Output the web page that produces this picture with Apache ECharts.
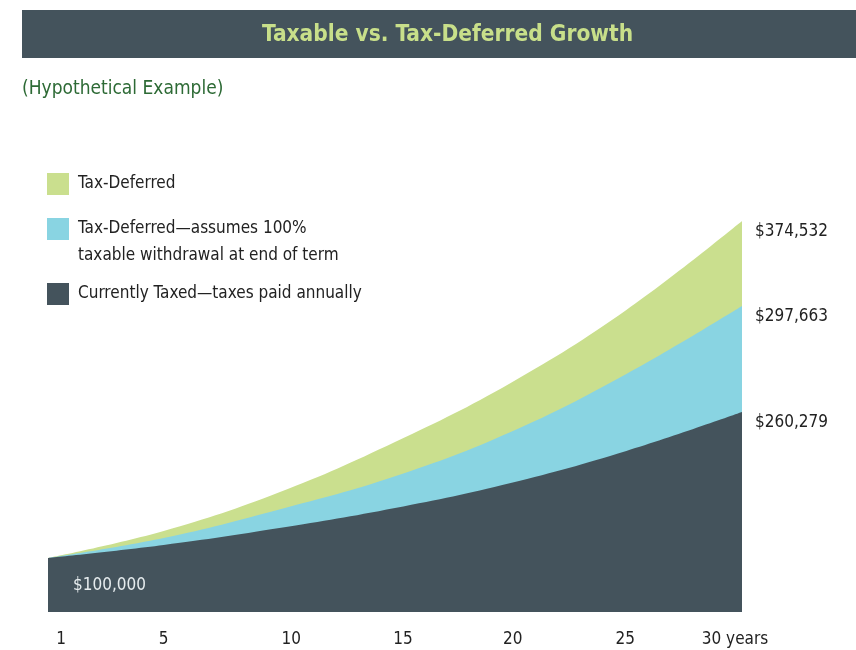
<!DOCTYPE html>
<html>
<head>
<meta charset="utf-8">
<script src="https://cdn.jsdelivr.net/npm/echarts@6/dist/echarts.min.js"></script>
<style>
html,body{margin:0;padding:0;background:#fff;}
#chart{width:856px;height:650px;}
</style>
</head>
<body>
<div id="chart"></div>
<script>
const years = [0, 5, 10, 15, 20, 25, 30];
const taxDeferred = [100000, 122000, 153500, 194500, 242600, 302000, 374532];
const taxDeferredWithdrawal = [100000, 116300, 139500, 166500, 202600, 249900, 305300];
const currentlyTaxed = [100000, 110600, 124400, 140700, 161100, 187200, 218900];
const endLabels = ['$374,532', '$297,663', '$260,279'];
const startLabel = '$100,000';
const xTickValues = [1, 5, 10, 15, 20, 25, 30];
const xTickText = ['1', '5', '10', '15', '20', '25', '30 years'];
const seriesNames = ['Tax-Deferred', 'Tax-Deferred—assumes 100%\ntaxable withdrawal at end of term', 'Currently Taxed—taxes paid annually'];
const colors = ['#cadf8e', '#89d4e2', '#44535c'];

const FONT = "'Liberation Sans Narrow', 'DejaVu Sans Condensed', Roboto, sans-serif";
// small horizontal nudges of the tick labels (px), as hand-placed in the original
const tickNudge = [-10, 0, 12, 8, 2, -1, -7];

function pairs(vals) { return years.map((y, i) => [y, vals[i]]); }

const chart = echarts.init(document.getElementById('chart'));

function mkSeries(idx, vals) {
  return {
    name: seriesNames[idx],
    type: 'line',
    data: pairs(vals),
    smooth: 0.4,
    symbol: 'none',
    color: colors[idx],
    lineStyle: { width: 0 },
    areaStyle: { color: colors[idx], opacity: 1, origin: 'start' },
    z: 2 + idx,
    silent: true,
    endLabel: {
      show: true,
      formatter: () => endLabels[idx],
      color: '#222',
      fontSize: 17,
      fontFamily: FONT,
      offset: [5, 11]
    }
  };
}

const legendBase = {
  orient: 'vertical',
  left: 47,
  padding: 0,
  itemWidth: 22,
  itemHeight: 22,
  icon: 'rect',
  selectedMode: false,
  textStyle: { color: '#222', fontSize: 17, fontFamily: FONT, lineHeight: 27, padding: [3, 0, 0, 4] }
};

const rich = {};
xTickValues.forEach((v, i) => {
  const d = tickNudge[i];
  rich['t' + i] = {
    color: '#222', fontSize: 17, fontFamily: FONT,
    padding: d >= 0 ? [0, 0, 0, 2 * d] : [0, -2 * d, 0, 0]
  };
});

chart.setOption({
  animation: false,
  title: [
    {
      text: 'Taxable vs. Tax-Deferred Growth',
      left: 262, top: 24, padding: 0,
      textStyle: { color: '#c8df8a', fontSize: 22.5, fontWeight: 'bold', fontFamily: FONT }
    },
    {
      text: '(Hypothetical Example)',
      left: 22, top: 80, padding: 0,
      textStyle: { color: '#2d6a35', fontSize: 19, fontWeight: 'normal', fontFamily: FONT }
    }
  ],
  graphic: [
    { type: 'rect', left: 22, top: 10, shape: { width: 834, height: 48 }, style: { fill: '#44535c' }, z: -1 },
    { type: 'text', left: 73, top: 577, style: { text: startLabel, fill: '#e6ecee', fontSize: 17, fontFamily: FONT }, z: 100 }
  ],
  legend: [
    Object.assign({}, legendBase, { top: 169, data: [seriesNames[0]] }),
    Object.assign({}, legendBase, { top: 187, data: [seriesNames[1]],
      formatter: name => '\n' + name }),
    Object.assign({}, legendBase, { top: 279, data: [seriesNames[2]] })
  ],
  grid: { left: 48, right: 114, top: 221, bottom: 38, containLabel: false },
  xAxis: {
    type: 'value', min: 0, max: 30,
    axisLine: { show: false }, axisTick: { show: false }, splitLine: { show: false },
    axisLabel: {
      customValues: xTickValues,
      margin: 19,
      color: '#222', fontSize: 17, fontFamily: FONT,
      rich: rich,
      formatter: v => {
        const i = xTickValues.indexOf(v);
        return '{t' + i + '|' + xTickText[i] + '}';
      }
    }
  },
  yAxis: { type: 'value', min: 56000, max: 374532, show: false },
  series: [
    mkSeries(0, taxDeferred),
    mkSeries(1, taxDeferredWithdrawal),
    mkSeries(2, currentlyTaxed)
  ]
});
</script>
</body>
</html>
